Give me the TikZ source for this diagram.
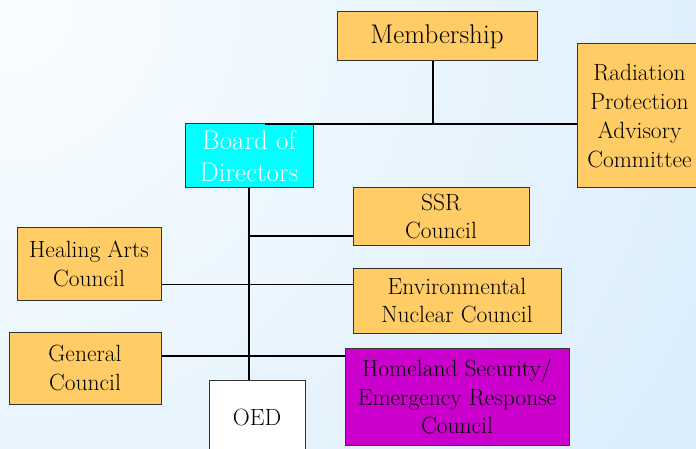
\documentclass[tikz,border=0pt]{standalone}
\definecolor{boxorange}{HTML}{FFCC66}
\definecolor{boxpurple}{HTML}{CC00CC}
\definecolor{boxcyan}{HTML}{00FFFF}
\definecolor{bgtop}{HTML}{FAFDFF}
\definecolor{bgbottom}{HTML}{CFE8FB}
\begin{document}
\begin{tikzpicture}[x=1pt,y=-1pt,
  box/.style={draw=black!80, line width=1pt, inner sep=0pt, align=center,
    font=\fontsize{23.5}{28.7}\selectfont, text=black},
  obox/.style={box, fill=boxorange},
  bigtext/.style={font=\fontsize{27}{32}\selectfont},
  conn/.style={line width=2pt, black},
  thinconn/.style={line width=1pt, black}]
\useasboundingbox (0,0) rectangle (696,449);
\clip (0,0) rectangle (696,449);
\fill[bgbottom] (0,0) rectangle (696,449);
\shade[inner color=bgtop, outer color=bgbottom] (-1100,-1100) rectangle (1100,1100);

\node[obox, bigtext, minimum width=200pt, minimum height=49pt] (mem) at (437,36.5) {Membership};
\node[box, bigtext, fill=boxcyan, text=white, minimum width=128pt, minimum height=64pt] (bod) at (249,156) {Board of\\Directors};
\node[obox, minimum width=125pt, minimum height=144pt] (rad) at (639.5,116) {Radiation\\Protection\\Advisory\\Committee};
\node[obox, minimum width=176pt, minimum height=57pt] (ssr) at (441,216.5) {SSR\\Council};
\node[obox, minimum width=144pt, minimum height=72pt] (heal) at (89,264) {Healing Arts\\Council};
\node[obox, minimum width=208pt, minimum height=65pt] (env) at (457,300.5) {Environmental\\Nuclear Council};
\node[obox, minimum width=152pt, minimum height=72pt] (gen) at (85,368) {General\\Council};
\node[box, fill=boxpurple, minimum width=224pt, minimum height=97pt] (home) at (457,396.5) {Homeland Security/\\Emergency Response\\Council};
\node[box, fill=white, minimum width=96pt, minimum height=74pt] (oed) at (257,417) {OED};

\coordinate (jtop) at (265,124);
\coordinate (jmem) at (433,124);
\coordinate (jssr) at (249,236);
\coordinate (jheal) at (0,284);
\coordinate (jgen) at (0,356);

\draw[conn] (jtop) -- (jtop -| rad.west);
\draw[conn] (mem.south -| jmem) -- (jmem);
\draw[conn] (bod.south) -- (bod.south |- oed.north);
\draw[conn] (jssr) -- (jssr -| ssr.west);
\draw[thinconn] (heal.east |- jheal) -- (env.west |- jheal);
\draw[conn] (gen.east |- jgen) -- (home.west |- jgen);
\end{tikzpicture}
\end{document}
